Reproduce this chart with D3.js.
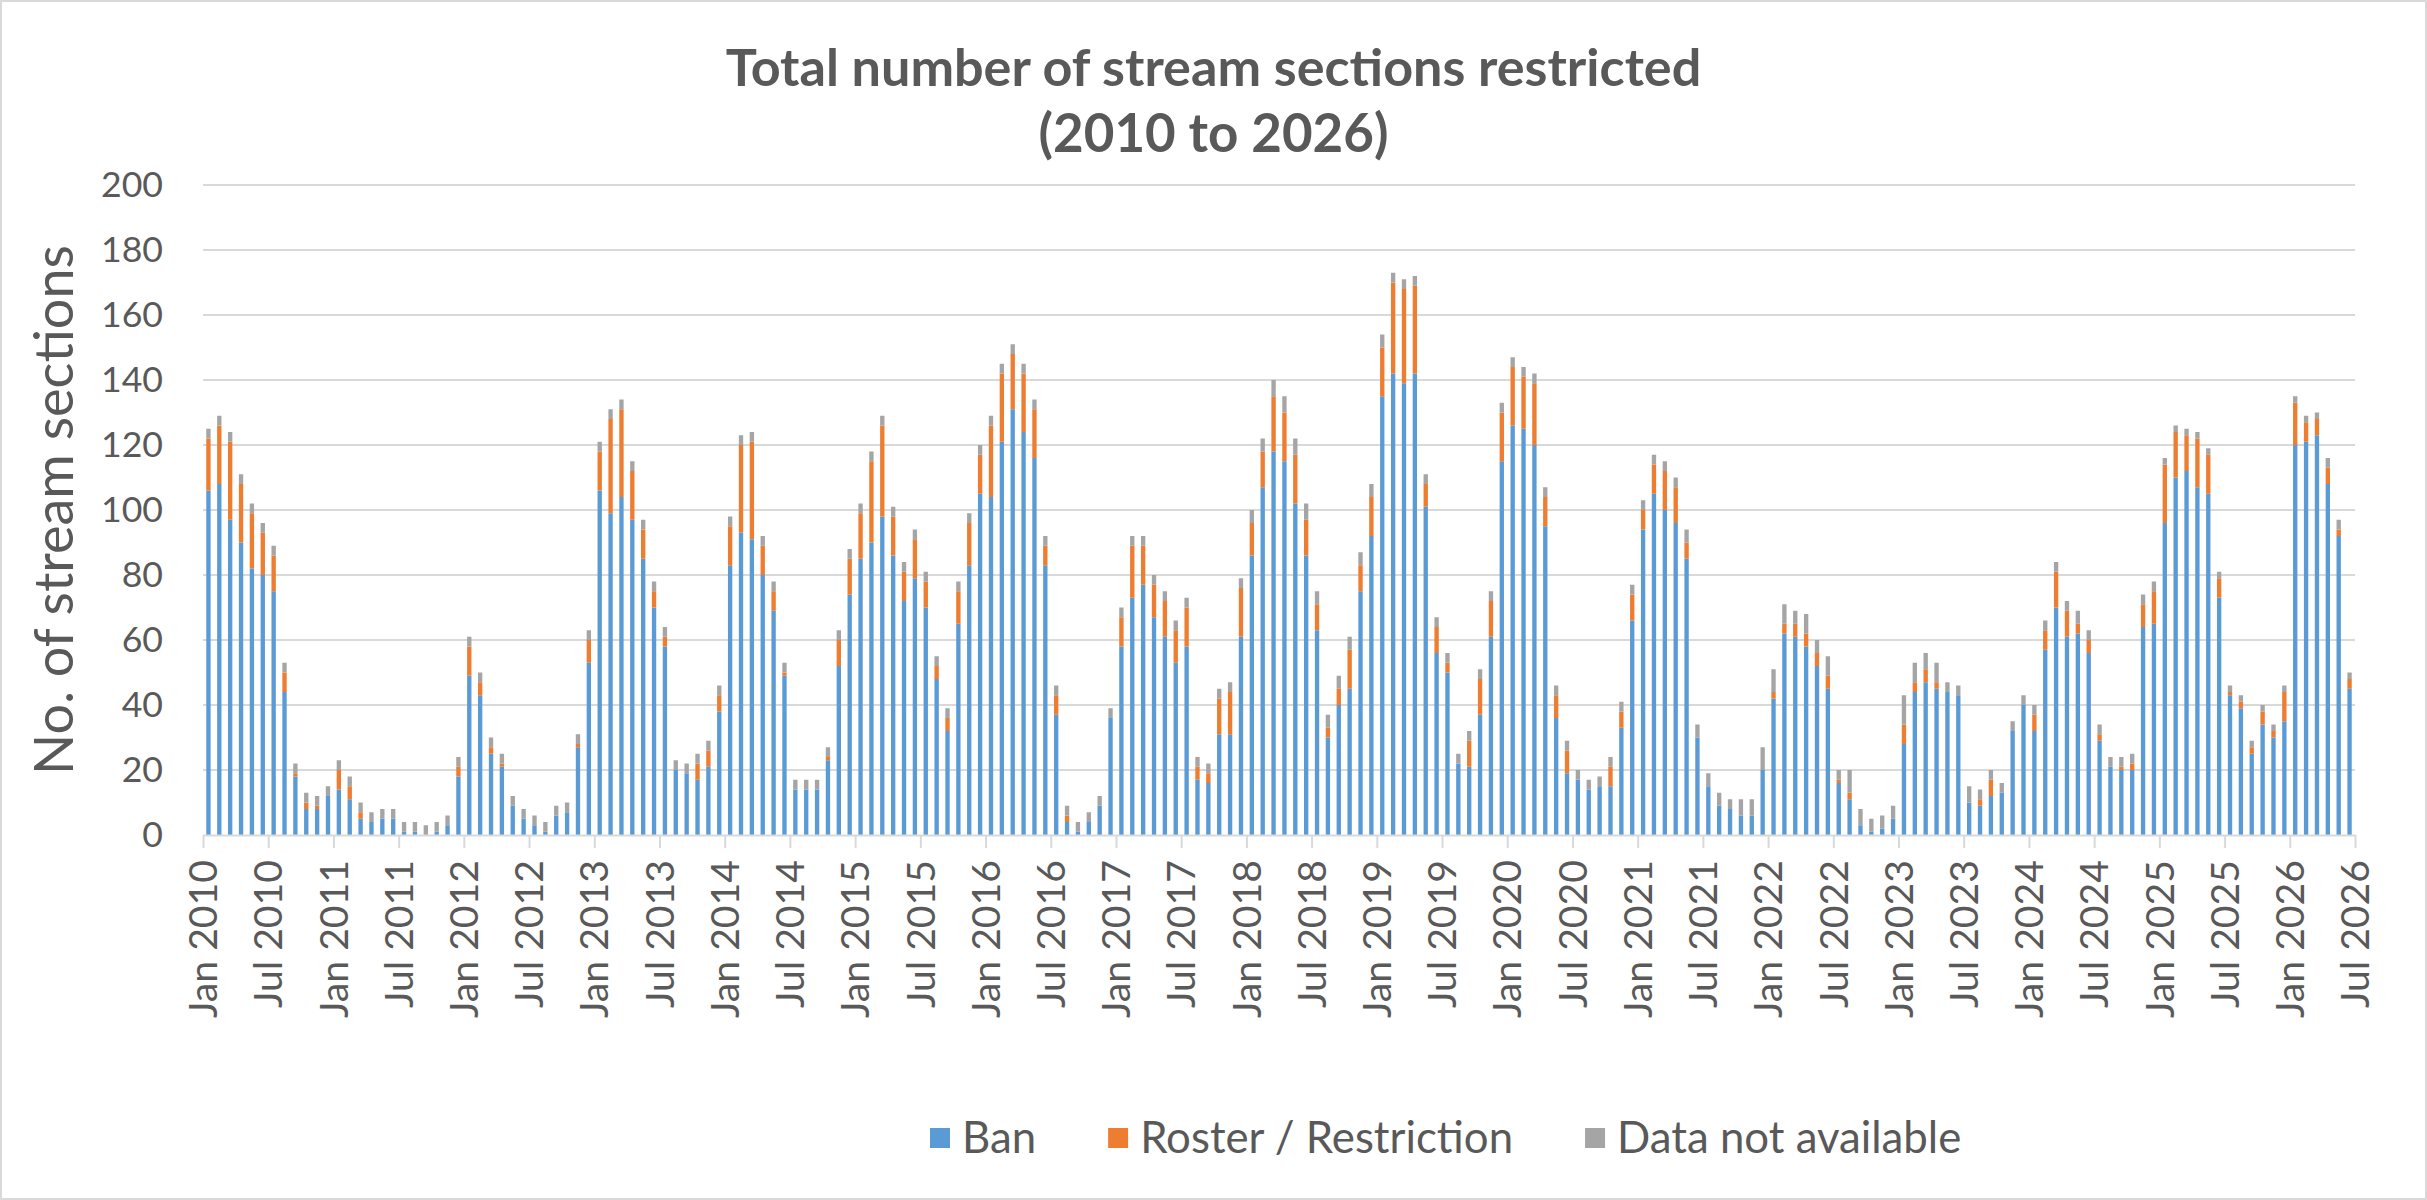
<!DOCTYPE html>
<html>
<head>
<meta charset="utf-8">
<script src="https://cdn.jsdelivr.net/npm/d3@7"></script>
<style>
  body { margin: 0; background: #fff; }
  svg { display: block; }
  text { font-family: Lato, "Liberation Sans", sans-serif; fill: #595959; }
</style>
</head>
<body>
<svg id="chart" width="2427" height="1200"></svg>
<script>
// Chart size and plot box
const width = 2427;
const height = 1200;
const plot = { left: 203, right: 2355, top: 185, bottom: 835 };

// Categories: one bar per month, Jan 2010 .. Jun 2026
const months = d3.timeMonth.range(new Date(2010, 0, 1), new Date(2026, 6, 1));
const monthKeys = months.map(d3.timeFormat("%b %Y"));

// Axis tick labels (every six months, on band edges)
const tickLabels = [];
for (let y = 2010; y <= 2026; y++) { tickLabels.push("Jan " + y, "Jul " + y); }
const yTicks = [0, 20, 40, 60, 80, 100, 120, 140, 160, 180, 200];

// Series values (one per month)
const ban = [
  106, 108, 97, 90, 82, 80, 75, 44, 18, 8, 8, 12, 14, 11, 5, 4, 5, 5, 1, 1,
  0, 1, 3, 18, 49, 43, 25, 21, 9, 5, 3, 1, 6, 7, 27, 53, 106, 99, 104, 97,
  85, 70, 58, 20, 19, 17, 21, 38, 83, 93, 91, 80, 69, 49, 14, 14, 14, 23, 52, 74,
  85, 90, 98, 86, 72, 79, 70, 48, 32, 65, 83, 105, 104, 121, 131, 124, 116, 83, 37, 4,
  1, 4, 9, 36, 58, 73, 77, 67, 61, 53, 58, 17, 16, 31, 31, 61, 86, 107, 118, 115,
  102, 86, 63, 30, 40, 45, 75, 92, 135, 142, 139, 142, 101, 56, 50, 22, 21, 37, 61, 115,
  126, 125, 120, 95, 36, 19, 17, 14, 15, 15, 33, 66, 94, 105, 100, 96, 85, 30, 15, 9,
  8, 6, 6, 20, 42, 62, 61, 58, 52, 45, 16, 11, 3, 1, 2, 5, 28, 44, 47, 45,
  44, 43, 10, 9, 12, 13, 32, 40, 32, 57, 70, 61, 62, 56, 29, 21, 20, 20, 64, 65,
  96, 110, 112, 107, 105, 73, 43, 39, 25, 34, 30, 35, 120, 121, 123, 108, 92, 45
];
const roster = [
  16, 18, 24, 18, 17, 13, 11, 6, 1, 2, 1, 0, 6, 4, 2, 0, 0, 0, 0, 0,
  0, 0, 0, 3, 9, 4, 2, 1, 0, 0, 0, 0, 0, 0, 1, 7, 12, 29, 27, 15,
  9, 5, 3, 0, 0, 5, 5, 5, 12, 27, 30, 9, 6, 1, 0, 0, 0, 1, 8, 11,
  14, 25, 28, 12, 9, 12, 8, 4, 4, 10, 13, 12, 22, 21, 17, 18, 15, 6, 6, 2,
  0, 0, 0, 0, 9, 16, 12, 10, 11, 10, 12, 4, 3, 11, 13, 15, 10, 11, 17, 15,
  15, 11, 8, 3, 5, 12, 8, 12, 15, 28, 29, 27, 7, 8, 3, 0, 8, 11, 11, 15,
  18, 16, 19, 9, 7, 7, 0, 0, 0, 6, 5, 8, 6, 9, 12, 11, 5, 0, 0, 0,
  0, 0, 0, 0, 2, 3, 4, 4, 4, 4, 1, 2, 0, 0, 0, 0, 6, 3, 4, 2,
  0, 0, 0, 2, 5, 0, 0, 0, 5, 6, 11, 8, 3, 4, 2, 0, 1, 2, 7, 10,
  18, 14, 11, 15, 12, 6, 1, 2, 2, 4, 2, 9, 13, 6, 5, 5, 2, 3
];
const notAvailable = [
  3, 3, 3, 3, 3, 3, 3, 3, 3, 3, 3, 3, 3, 3, 3, 3, 3, 3, 3, 3,
  3, 3, 3, 3, 3, 3, 3, 3, 3, 3, 3, 3, 3, 3, 3, 3, 3, 3, 3, 3,
  3, 3, 3, 3, 3, 3, 3, 3, 3, 3, 3, 3, 3, 3, 3, 3, 3, 3, 3, 3,
  3, 3, 3, 3, 3, 3, 3, 3, 3, 3, 3, 3, 3, 3, 3, 3, 3, 3, 3, 3,
  3, 3, 3, 3, 3, 3, 3, 3, 3, 3, 3, 3, 3, 3, 3, 3, 4, 4, 5, 5,
  5, 5, 4, 4, 4, 4, 4, 4, 4, 3, 3, 3, 3, 3, 3, 3, 3, 3, 3, 3,
  3, 3, 3, 3, 3, 3, 3, 3, 3, 3, 3, 3, 3, 3, 3, 3, 4, 4, 4, 4,
  3, 5, 5, 7, 7, 6, 4, 6, 4, 6, 3, 7, 5, 4, 4, 4, 9, 6, 5, 6,
  3, 3, 5, 3, 3, 3, 3, 3, 3, 3, 3, 3, 4, 3, 3, 3, 3, 3, 3, 3,
  2, 2, 2, 2, 2, 2, 2, 2, 2, 2, 2, 2, 2, 2, 2, 3, 3, 2
];

const seriesKeys = ["ban", "roster", "na"];
const seriesNames = ["Ban", "Roster / Restriction", "Data not available"];
const seriesColors = ["#5B9BD5", "#ED7D31", "#A5A5A5"];

const rows = monthKeys.map((m, i) => ({ month: m, ban: ban[i], roster: roster[i], na: notAvailable[i] }));

const svg = d3.select("#chart");

// scale a text's font-size so that it spans the target width
function fitFont(sel, target) {
  const w = sel.node().getComputedTextLength();
  const fs = parseFloat(sel.attr("font-size"));
  const size = fs * target / w;
  sel.attr("font-size", size);
  return size;
}

// Chart border
svg.append("rect")
  .attr("x", 1).attr("y", 1)
  .attr("width", width - 2).attr("height", height - 2)
  .attr("fill", "#fff").attr("stroke", "#d9d9d9").attr("stroke-width", 2);

// Scales
const x = d3.scaleBand()
  .domain(monthKeys)
  .range([plot.left, plot.right])
  .paddingInner(0.6)
  .paddingOuter(0.3);
const xTick = d3.scalePoint().domain(tickLabels).range([plot.left, plot.right]);
const y = d3.scaleLinear().domain([0, 200]).range([plot.bottom, plot.top]);
const color = d3.scaleOrdinal().domain(seriesKeys).range(seriesColors);

// Gridlines
svg.append("g")
  .selectAll("line")
  .data(yTicks.filter(d => d > 0))
  .join("line")
  .attr("x1", plot.left).attr("x2", plot.right)
  .attr("y1", d => y(d)).attr("y2", d => y(d))
  .attr("stroke", "#d9d9d9").attr("stroke-width", 2);

// Y axis labels
const yAxis = svg.append("g")
  .attr("transform", `translate(${plot.left - 40},0)`)
  .call(d3.axisLeft(y).tickValues(yTicks).tickSize(0).tickPadding(0));
yAxis.select(".domain").remove();
yAxis.selectAll("text").attr("font-size", 36).attr("font-family", null).style("fill", "#595959");
const yFs = fitFont(yAxis.selectAll("text").filter(d => d === 200), 62);
yAxis.selectAll("text").attr("font-size", yFs);

// Stacked bars
const stacked = d3.stack().keys(seriesKeys)(rows);
svg.append("g")
  .selectAll("g")
  .data(stacked)
  .join("g")
  .attr("fill", d => color(d.key))
  .selectAll("rect")
  .data(d => d)
  .join("rect")
  .attr("x", d => x(d.data.month))
  .attr("width", x.bandwidth())
  .attr("y", d => y(d[1]))
  .attr("height", d => y(d[0]) - y(d[1]));

// X axis
const xAxis = svg.append("g")
  .attr("transform", `translate(0,${plot.bottom})`)
  .call(d3.axisBottom(xTick).tickSize(13).tickSizeOuter(0));
xAxis.select(".domain").attr("stroke", "#d9d9d9").attr("stroke-width", 2);
xAxis.selectAll(".tick line").attr("stroke", "#d9d9d9").attr("stroke-width", 2);
xAxis.selectAll("text")
  .attr("font-size", 36)
  .attr("font-family", null)
  .style("fill", "#595959")
  .attr("x", 0).attr("y", 0).attr("dy", "0.35em")
  .attr("text-anchor", "end")
  .attr("transform", "translate(0,25) rotate(-90)");
const xFs = fitFont(xAxis.selectAll("text").filter(d => d === "Jan 2010"), 158);
xAxis.selectAll("text").attr("font-size", xFs);

// Y axis title
const yTitle = svg.append("text")
  .attr("transform", `translate(54,${(plot.top + plot.bottom) / 2}) rotate(-90)`)
  .attr("text-anchor", "middle")
  .attr("dy", "0.35em")
  .attr("font-size", 36)
  .text("No. of stream sections");
fitFont(yTitle, 530);

// Title
const t1 = svg.append("text")
  .attr("x", width / 2).attr("y", 86)
  .attr("text-anchor", "middle")
  .attr("font-weight", "bold")
  .attr("font-size", 44)
  .text("Total number of stream sections restricted");
fitFont(t1, 976);
const t2 = svg.append("text")
  .attr("x", width / 2).attr("y", 152)
  .attr("text-anchor", "middle")
  .attr("font-weight", "bold")
  .attr("font-size", 44)
  .text("(2010 to 2026)");
fitFont(t2, 350);

// Legend
const legend = svg.append("g").attr("transform", "translate(930,1138)");
let legendFs = 36;
seriesNames.forEach((name, i) => {
  const g = legend.append("g");
  g.append("rect")
    .attr("x", 0).attr("y", -10)
    .attr("width", 20).attr("height", 20)
    .attr("fill", seriesColors[i]);
  const t = g.append("text")
    .attr("x", 32).attr("dy", "0.35em")
    .attr("font-size", legendFs)
    .text(name);
  if (i === 1) {
    legendFs = fitFont(t, 373);
  }
});
// lay legend items out in a row with the fitted size
legend.selectAll("text").attr("font-size", legendFs);
let lx = 0;
legend.selectAll("g").each(function () {
  const g = d3.select(this);
  g.attr("transform", `translate(${lx},0)`);
  lx += 32 + g.select("text").node().getComputedTextLength() + 72;
});
</script>
</body>
</html>
